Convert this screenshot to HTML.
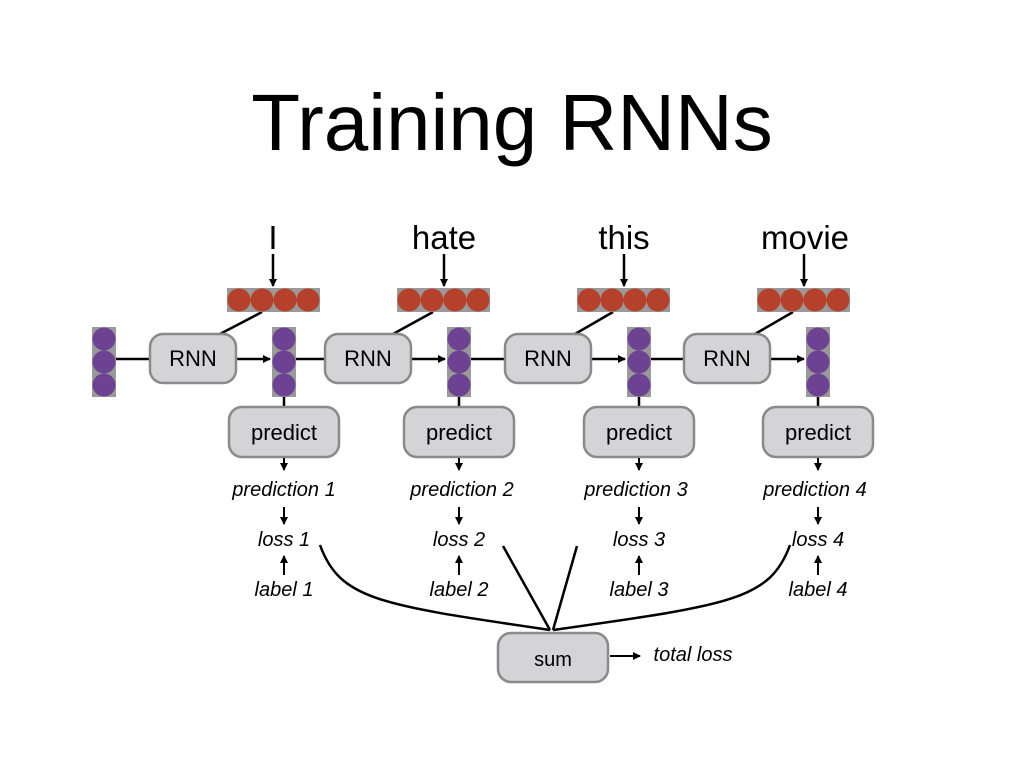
<!DOCTYPE html>
<html><head><meta charset="utf-8"><style>html,body{margin:0;padding:0;background:#fff}svg{display:block}</style></head>
<body>
<svg width="1024" height="768" viewBox="0 0 1024 768" xmlns="http://www.w3.org/2000/svg" font-family="Liberation Sans, Arial, sans-serif">
<defs>
<marker id="a" markerWidth="8" markerHeight="8" refX="7" refY="4" orient="auto" markerUnits="userSpaceOnUse"><path d="M0,0 L8,4 L0,8 z" fill="#000"/></marker>
<g id="red"><rect x="0" y="0" width="93" height="24" fill="#999"/><circle cx="12" cy="12" r="11.5" fill="#b5412d"/><circle cx="35" cy="12" r="11.5" fill="#b5412d"/><circle cx="58" cy="12" r="11.5" fill="#b5412d"/><circle cx="81" cy="12" r="11.5" fill="#b5412d"/></g>
<g id="pur"><rect x="0" y="0" width="24" height="70" fill="#999"/><circle cx="12" cy="12" r="11.5" fill="#6e4292"/><circle cx="12" cy="35" r="11.5" fill="#6e4292"/><circle cx="12" cy="58" r="11.5" fill="#6e4292"/></g>
</defs>
<text x="512" y="150" font-size="80" text-anchor="middle">Training RNNs</text>
<g font-size="33" text-anchor="middle">
<text x="273" y="249">I</text><text x="444" y="249">hate</text><text x="624" y="249">this</text><text x="805" y="249">movie</text>
</g>
<g stroke="#000" stroke-width="2.5" fill="none">
<line x1="273" y1="254" x2="273" y2="286" marker-end="url(#a)"/>
<line x1="444" y1="254" x2="444" y2="286" marker-end="url(#a)"/>
<line x1="624" y1="254" x2="624" y2="286" marker-end="url(#a)"/>
<line x1="804" y1="254" x2="804" y2="286" marker-end="url(#a)"/>
<line x1="262" y1="312" x2="220" y2="334"/>
<line x1="433" y1="312" x2="393" y2="334"/>
<line x1="613" y1="312" x2="575" y2="334"/>
<line x1="793" y1="312" x2="755" y2="334"/>
<line x1="116" y1="359" x2="150" y2="359"/>
<line x1="296" y1="359" x2="325" y2="359"/>
<line x1="471" y1="359" x2="505" y2="359"/>
<line x1="651" y1="359" x2="684" y2="359"/>
<line x1="236" y1="359" x2="270" y2="359" marker-end="url(#a)"/>
<line x1="411" y1="359" x2="445" y2="359" marker-end="url(#a)"/>
<line x1="591" y1="359" x2="625" y2="359" marker-end="url(#a)"/>
<line x1="770" y1="359" x2="804" y2="359" marker-end="url(#a)"/>
<line x1="284" y1="397" x2="284" y2="407"/><line x1="459" y1="397" x2="459" y2="407"/><line x1="639" y1="397" x2="639" y2="407"/><line x1="818" y1="397" x2="818" y2="407"/>
</g>
<use href="#red" x="227" y="288"/><use href="#red" x="397" y="288"/><use href="#red" x="577" y="288"/><use href="#red" x="757" y="288"/>
<use href="#pur" x="92" y="327"/><use href="#pur" x="272" y="327"/><use href="#pur" x="447" y="327"/><use href="#pur" x="627" y="327"/><use href="#pur" x="806" y="327"/>
<g fill="#d4d4d6" stroke="#8a8a8a" stroke-width="2.5">
<rect x="150" y="334" width="86" height="49" rx="13"/><rect x="325" y="334" width="86" height="49" rx="13"/><rect x="505" y="334" width="86" height="49" rx="13"/><rect x="684" y="334" width="86" height="49" rx="13"/>
<rect x="229" y="407" width="110" height="50" rx="13"/><rect x="404" y="407" width="110" height="50" rx="13"/><rect x="584" y="407" width="110" height="50" rx="13"/><rect x="763" y="407" width="110" height="50" rx="13"/>
<rect x="498" y="633" width="110" height="49" rx="13"/>
</g>
<g font-size="22" text-anchor="middle">
<text x="193" y="366">RNN</text><text x="368" y="366">RNN</text><text x="548" y="366">RNN</text><text x="727" y="366">RNN</text>
<text x="284" y="440">predict</text><text x="459" y="440">predict</text><text x="639" y="440">predict</text><text x="818" y="440">predict</text>
<text x="553" y="666" font-size="20">sum</text>
</g>
<g font-size="20" font-style="italic" text-anchor="middle">
<text x="284" y="496">prediction 1</text><text x="462" y="496">prediction 2</text><text x="636" y="496">prediction 3</text><text x="815" y="496">prediction 4</text>
<text x="284" y="546">loss 1</text><text x="459" y="546">loss 2</text><text x="639" y="546">loss 3</text><text x="818" y="546">loss 4</text>
<text x="284" y="596">label 1</text><text x="459" y="596">label 2</text><text x="639" y="596">label 3</text><text x="818" y="596">label 4</text>
<text x="693" y="661" >total loss</text>
</g>
<g stroke="#000" stroke-width="2" fill="none">
<line x1="284" y1="458" x2="284" y2="470" marker-end="url(#a)"/><line x1="459" y1="458" x2="459" y2="470" marker-end="url(#a)"/><line x1="639" y1="458" x2="639" y2="470" marker-end="url(#a)"/><line x1="818" y1="458" x2="818" y2="470" marker-end="url(#a)"/>
<line x1="284" y1="507" x2="284" y2="524" marker-end="url(#a)"/><line x1="459" y1="507" x2="459" y2="524" marker-end="url(#a)"/><line x1="639" y1="507" x2="639" y2="524" marker-end="url(#a)"/><line x1="818" y1="507" x2="818" y2="524" marker-end="url(#a)"/>
<line x1="284" y1="575" x2="284" y2="556" marker-end="url(#a)"/><line x1="459" y1="575" x2="459" y2="556" marker-end="url(#a)"/><line x1="639" y1="575" x2="639" y2="556" marker-end="url(#a)"/><line x1="818" y1="575" x2="818" y2="556" marker-end="url(#a)"/>
<line x1="610" y1="656" x2="640" y2="656" marker-end="url(#a)"/>
</g>
<g stroke="#000" stroke-width="2.5" fill="none">
<path d="M320,545 C340,600 380,605 550,630"/>
<line x1="503" y1="546" x2="550" y2="630"/>
<line x1="577" y1="546" x2="553" y2="630"/>
<path d="M790,545 C770,600 730,605 553,630"/>
</g>
</svg>
</body></html>
